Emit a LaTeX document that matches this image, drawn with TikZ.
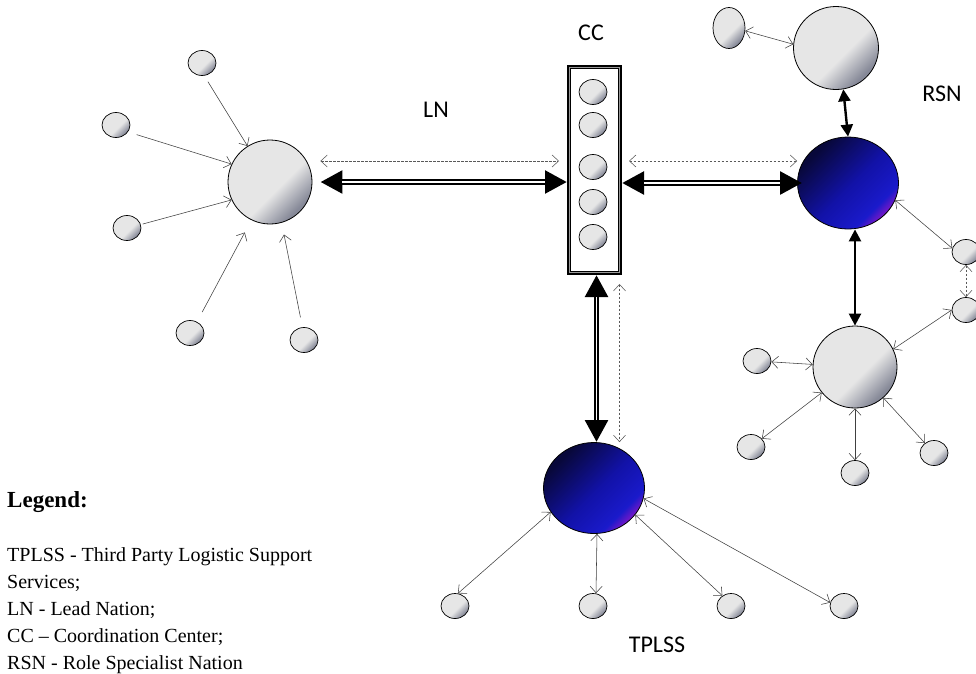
\documentclass[tikz,border=0pt]{standalone}
\usepackage{fontspec}
\setmainfont{Liberation Serif}
\newfontfamily\labelfont{Carlito}
\usetikzlibrary{arrows.meta,shapes.geometric}

\definecolor{glight}{HTML}{E6E6E6}
\definecolor{gdark}{HTML}{868998}
\definecolor{bdark}{HTML}{08083A}
\definecolor{bmid}{HTML}{1212A8}
\definecolor{bbright}{HTML}{1A1ACB}
\definecolor{bpurple}{HTML}{6A18C8}
\definecolor{linegray}{HTML}{404040}

\pgfdeclareverticalshading{ballgray}{100bp}{color(0bp)=(gdark); color(27bp)=(gdark); color(44bp)=(glight); color(100bp)=(glight)}
\pgfdeclareverticalshading{ballblue}{100bp}{color(0bp)=(bpurple); color(26bp)=(bpurple); color(31bp)=(bbright); color(48bp)=(bmid); color(73bp)=(bdark); color(100bp)=(bdark)}

\begin{document}
\begin{tikzpicture}[x=1pt,y=-1pt,
  sat/.style={ellipse, draw, line width=0.7pt, minimum width=28pt, minimum height=25pt, inner sep=0pt, shading=ballgray, shading angle=45},
  bigball/.style={ellipse, draw, line width=0.8pt, inner sep=0pt, shading=ballgray, shading angle=45},
  blueball/.style={ellipse, draw, line width=0.8pt, inner sep=0pt, shading=ballblue, shading angle=45},
  thinone/.style={draw=linegray, line width=0.55pt, -{Straight Barb[length=6.5pt,width=12pt]}},
  thintwo/.style={draw=linegray, line width=0.55pt, {Straight Barb[length=6.5pt,width=12pt]}-{Straight Barb[length=6.5pt,width=12pt]}},
  dashtwo/.style={draw=black!65, line width=0.55pt, dash pattern=on 2.5pt off 1.5pt, {Straight Barb[length=6.5pt,width=12pt]}-{Straight Barb[length=6.5pt,width=12pt]}},
  heavy/.style={line width=5.2pt, {Triangle[length=22pt,width=22pt]}-{Triangle[length=22pt,width=22pt]}},
  heavyinner/.style={draw=white, line width=1.5pt},
  solidtwo/.style={line width=2.4pt, {Triangle[length=12pt,width=12pt]}-{Triangle[length=12pt,width=12pt]}},
  lbl/.style={font=\labelfont\fontsize{24pt}{28pt}\selectfont, inner sep=0pt}
]
\clip (0,0) rectangle (976,673);
\fill[white] (0,0) rectangle (976,673);

% ---------- LN cluster ----------
\node[bigball, minimum width=84pt, minimum height=84pt] (ln) at (270,182) {};
\node[sat] (l1) at (202,63) {};
\node[sat] (l2) at (116,125) {};
\node[sat] (l3) at (127,228) {};
\node[sat] (l4) at (190,333) {};
\node[sat] (l5) at (304,340) {};
\draw[thinone, shorten <=7pt] (l1.-80) -- (ln.122);
\draw[thinone, shorten <=9pt] (l2.-30) -- (ln.155);
\draw[thinone, shorten <=2pt] (l3.14) -- (ln.205);
\draw[thinone, shorten <=11pt, shorten >=14pt] (l4.58) -- (ln.244);
\draw[thinone, shorten <=10pt, shorten >=12pt] (l5.97) -- (ln.286);
\node[lbl] (lnlabel) at (436,110) {LN};

% ---------- CC ----------
\node[draw, line width=2.4pt, minimum width=52.6pt, minimum height=207.6pt, inner sep=0pt] (cc) at (594.5,170) {};
\draw[line width=0.9pt, black!40] ([shift={(2.2pt,-2.2pt)}]cc.north west) rectangle ([shift={(-2.2pt,2.2pt)}]cc.south east);
\draw[line width=0.6pt] ([shift={(3.4pt,-3.4pt)}]cc.north west) rectangle ([shift={(-3.4pt,3.4pt)}]cc.south east);
\node[sat] (c1) at (593,92) {};
\node[sat] (c2) at (593,125) {};
\node[sat] (c3) at (593,167) {};
\node[sat] (c4) at (593,202) {};
\node[sat] (c5) at (593,237) {};
\node[lbl] (cclabel) at (591,33) {CC};

% ---------- RSN cluster ----------
\node[blueball, minimum width=101pt, minimum height=92pt] (rsn) at (848,183) {};
\node[bigball, minimum width=85pt, minimum height=83pt] (rt) at (836,48) {};
\node[sat, minimum width=32pt, minimum height=41pt] (e0) at (729,28) {};
\node[bigball, minimum width=84pt, minimum height=82pt] (bg) at (855,367) {};
\node[sat] (r1) at (966,252) {};
\node[sat] (r2) at (966,310) {};
\node[sat] (b1) at (757,361) {};
\node[sat] (b2) at (751,447) {};
\node[sat] (b3) at (855,473) {};
\node[sat] (b4) at (934,453) {};
\node[lbl] (rsnlabel) at (942,94) {RSN};

\draw[thintwo] (e0.-10) -- (rt.175);
\draw[solidtwo] (rt.-80) -- (rsn.north);
\draw[solidtwo] (rsn.south -| bg.north) -- (bg.north);
\draw[thintwo] (rsn.-20) -- (r1.165);
\draw[dashtwo] (r1.south) -- (r2.north);
\draw[thintwo] (r2.west) -- (bg.25);
\draw[thintwo] (b1) -- (bg);
\draw[thintwo] (b2) -- (bg);
\draw[thintwo] (b3) -- (bg);
\draw[thintwo] (b4) -- (bg);

% ---------- TPLSS cluster ----------
\node[blueball, minimum width=101pt, minimum height=91pt] (tp) at (594,488) {};
\node[sat] (t1) at (455,606) {};
\node[sat] (t2) at (593,606) {};
\node[sat] (t3) at (731,606) {};
\node[sat] (t4) at (844,606) {};
\draw[thintwo] (t1.77) -- (tp.209);
\draw[thintwo] ([xshift=3pt]tp.south) -- ([xshift=3pt]t2.north);
\draw[thintwo] (t3.130) -- (tp.-33);
\draw[thintwo] (t4.166) -- (tp.-12);
\node[lbl] (tplabel) at (657,645) {TPLSS};

% ---------- main links ----------
\draw[heavy, shorten <=8pt] (ln.east) -- (ln.east -| cc.west);
\draw[heavyinner, shorten <=30pt, shorten >=22pt] (ln.east) -- (ln.east -| cc.west);
\draw[dashtwo, shorten <=8pt, shorten >=8pt] ([yshift=21pt]ln.east) -- ([yshift=21pt]ln.east -| cc.west);

\draw[heavy, shorten >=-5pt] (cc.east |- rsn.west) -- (rsn.west);
\draw[heavyinner, shorten <=22pt, shorten >=17pt] (cc.east |- rsn.west) -- (rsn.west);
\draw[dashtwo, shorten <=7pt] ([yshift=22pt]cc.east |- rsn.west) -- ([yshift=22pt]rsn.west);

\draw[heavy] ([xshift=2pt]cc.south) -- ([xshift=2pt]cc.south |- tp.north);
\draw[heavyinner, shorten <=22pt, shorten >=22pt] ([xshift=2pt]cc.south) -- ([xshift=2pt]cc.south |- tp.north);
\draw[dashtwo, shorten <=9pt] ([xshift=25pt]cc.south) -- ([xshift=25pt]cc.south |- tp.north);

% ---------- legend ----------
\node[anchor=base west, inner sep=0pt, font=\bfseries\fontsize{23pt}{27pt}\selectfont] (legtitle) at (7,507) {Legend:};
\node[anchor=north west, inner sep=0pt, align=left, font=\fontsize{20pt}{27pt}\selectfont] (legbody) at (7,547)
  {TPLSS - Third Party Logistic Support\\Services;\\LN - Lead Nation;\\CC -- Coordination Center;\\RSN - Role Specialist Nation};
\end{tikzpicture}
\end{document}
